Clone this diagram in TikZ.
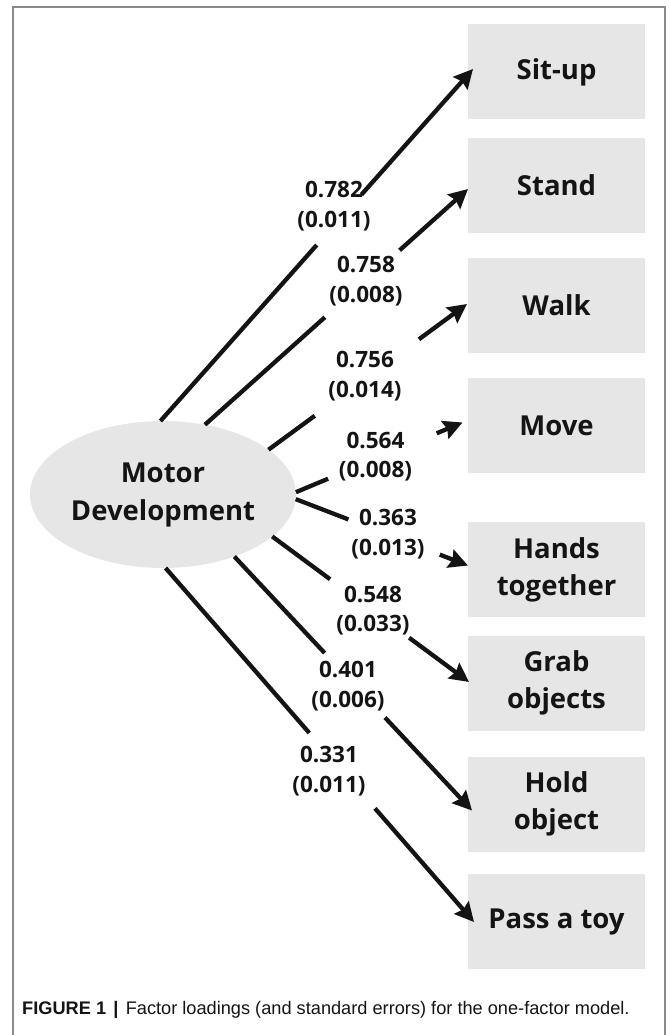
\documentclass[tikz,border=0pt]{standalone}
\usepackage{fontspec}
\setmainfont{Open Sans}
\newfontfamily\captfont{Liberation Sans}
\usetikzlibrary{arrows.meta,shapes.geometric,calc}
\definecolor{boxgray}{HTML}{E6E6E6}
\definecolor{ink}{HTML}{141414}
\definecolor{framegray}{HTML}{8A8A8A}
\tikzset{
  item/.style={rectangle, fill=boxgray, minimum width=177pt, minimum height=95pt,
    inner sep=0pt, outer sep=0pt, align=center, text=ink,
    font=\fontsize{27.5}{37}\selectfont\bfseries},
  factor/.style={ellipse, fill=boxgray, minimum width=266pt, minimum height=147pt,
    inner sep=0pt, outer sep=0pt, align=center, text=ink,
    font=\fontsize{27.5}{38}\selectfont\bfseries},
  load/.style={align=center, inner sep=0pt, text=ink,
    font=\fontsize{22.5}{29.5}\selectfont\bfseries},
  seg/.style={draw=ink, line width=4.3pt},
  arr/.style={seg, -{Stealth[length=19pt,width=19pt,inset=2.5pt]}},
}
\begin{document}
\begin{tikzpicture}[x=1pt,y=-1pt]
\useasboundingbox (0,0) rectangle (669,1035);
\draw[framegray, line width=1.3pt] (13,1035) -- (13,7) -- (665,7) -- (665,1035);

\node[factor] (md) at (163,494.5) {Motor\\Development};

\node[item] (situp) at (556.5,72) {Sit-up};
\node[item] (stand) at (556.5,185.5) {Stand};
\node[item] (walk)  at (556.5,305.5) {Walk};
\node[item] (move)  at (556.5,425.5) {Move};
\node[item] (hands) at (556.5,569.5) {Hands\\together};
\node[item] (grab)  at (556.5,683) {Grab\\objects};
\node[item] (hold)  at (556.5,804) {Hold\\object};
\node[item] (pass)  at (556.5,921.5) {Pass a toy};

% tips of arrows
\coordinate (t1) at ([shift={(5pt,3pt)}]situp.west);
\coordinate (t2) at ([shift={(0pt,-3.5pt)}]stand.west);
\coordinate (t3) at ([shift={(-1pt,1.5pt)}]walk.west);
\coordinate (t4) at ([shift={(-5.5pt,3pt)}]move.west);
\coordinate (t5) at ([shift={(0pt,4pt)}]hands.west);
\coordinate (t6) at ([shift={(1pt,1pt)}]grab.west);
\coordinate (t7) at ([shift={(4pt,-6.5pt)}]hold.west);
\coordinate (t8) at ([shift={(6pt,-0.5pt)}]pass.west);

% connectors, each interrupted where its loading is printed
\draw[seg] (md.92.4) -- ($(md.92.4)!0.50!(t1)$);
\draw[arr] ($(md.92.4)!0.643!(t1)$) -- (t1);
\draw[seg] (md.59.6) -- ($(md.59.6)!0.456!(t2)$);
\draw[arr] ($(md.59.6)!0.74!(t2)$) -- (t2);
\draw[seg] (md.23) -- ($(md.23)!0.233!(t3)$);
\draw[arr] ($(md.23)!0.758!(t3)$) -- (t3);
\draw[seg] (md.1) -- ($(md.1)!0.193!(t4)$);
\draw[arr] ($(md.1)!0.845!(t4)$) -- (t4);
\draw[seg] (md.-2) -- ($(md.-2)!0.306!(t5)$);
\draw[arr] ($(md.-2)!0.836!(t5)$) -- (t5);
\draw[seg] (md.-21.7) -- ($(md.-21.7)!0.294!(t6)$);
\draw[arr] ($(md.-21.7)!0.696!(t6)$) -- (t6);
\draw[seg] (md.-41) -- ($(md.-41)!0.38!(t7)$);
\draw[arr] ($(md.-41)!0.634!(t7)$) -- (t7);
\draw[seg] (md.-88.5) -- ($(md.-88.5)!0.466!(t8)$);
\draw[arr] ($(md.-88.5)!0.679!(t8)$) -- (t8);

% loadings (standard errors)
\node[load] (l1) at (334,206) {0.782\\(0.011)};
\node[load] (l2) at (366,281) {0.758\\(0.008)};
\node[load] (l3) at (365,376) {0.756\\(0.014)};
\node[load] (l4) at (375.5,456.5) {0.564\\(0.008)};
\node[load] (l5) at (388,534) {0.363\\(0.013)};
\node[load] (l6) at (373,610.5) {0.548\\(0.033)};
\node[load] (l7) at (348,686) {0.401\\(0.006)};
\node[load] (l8) at (329,771) {0.331\\(0.011)};

\node[anchor=base west, inner sep=0pt, text=ink, font=\captfont\fontsize{18.2}{20}\selectfont]
  (cap) at (22,1014) {\textbf{FIGURE 1}\hspace{0.4em}\textbf{|}\hspace{0.4em}Factor loadings (and standard errors) for the one-factor model.};
\end{tikzpicture}
\end{document}
